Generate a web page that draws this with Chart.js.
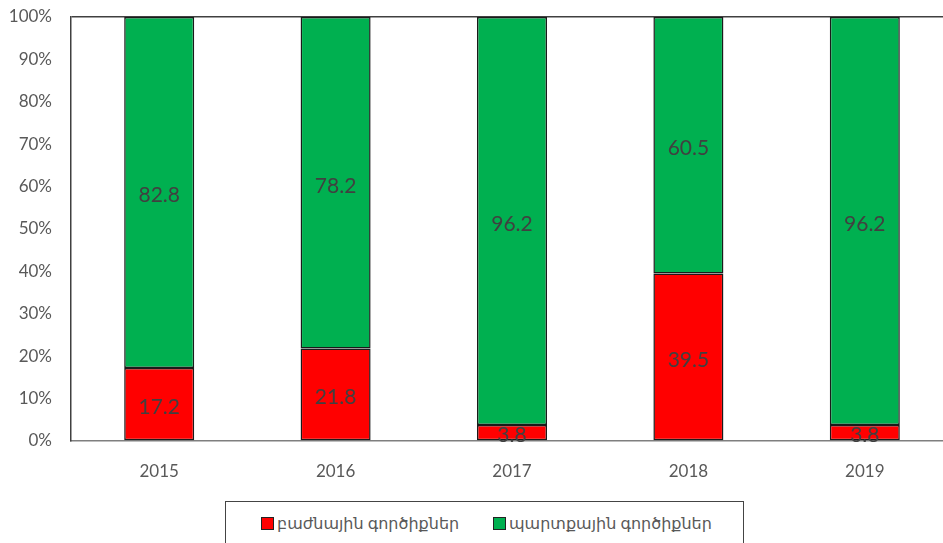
<!DOCTYPE html>
<html>
<head>
<meta charset="utf-8">
<script src="https://cdn.jsdelivr.net/npm/chart.js@4/dist/chart.umd.min.js"></script>
<style>
  html, body { margin: 0; padding: 0; background: #fff; overflow: hidden; }
  #wrap { position: relative; width: 943px; height: 543px; overflow: hidden; }
  #c { position: absolute; left: 0; top: 0; }
  #legend {
    position: absolute; left: 225px; top: 501px; width: 519px; height: 50px;
    border: 1px solid #444; box-sizing: border-box; background: #fff;
    font-family: "Lato", "DejaVu Sans", sans-serif; font-size: 16px; color: #595959;
  }
  .item { position: absolute; top: 11px; display: flex; align-items: center; white-space: nowrap; }
  .sw { width: 11px; height: 11px; border: 1px solid #222; margin-right: 3px; }
</style>
</head>
<body>
<div id="wrap">
  <canvas id="c" width="960" height="543"></canvas>
  <div id="legend"></div>
</div>
<script>
const categories = ['2015', '2016', '2017', '2018', '2019'];
const sectoralShares = [17.2, 21.8, 3.8, 39.5, 3.8];
const crossCuttingShares = [82.8, 78.2, 96.2, 60.5, 96.2];
const seriesNames = ['բաժնային գործիքներ', 'պարտքային գործիքներ'];
const seriesColors = ['#FF0000', '#00B050'];
const yTicks = [0, 10, 20, 30, 40, 50, 60, 70, 80, 90, 100];

const textColor = '#595959';
const fontFamily = '"Lato", "DejaVu Sans", sans-serif';

// Writes each segment's value in the middle of its bar piece
const segmentLabels = {
  id: 'segmentLabels',
  afterDatasetsDraw(chart) {
    const ctx = chart.ctx;
    ctx.save();
    ctx.font = '21px ' + fontFamily;
    ctx.fillStyle = '#404040';
    ctx.textAlign = 'center';
    ctx.textBaseline = 'middle';
    chart.data.datasets.forEach((ds, di) => {
      chart.getDatasetMeta(di).data.forEach((bar, i) => {
        const mid = (bar.y + bar.base) / 2;
        ctx.fillText(ds.data[i].toFixed(1), bar.x, mid + 3);
      });
    });
    ctx.restore();
  }
};

new Chart(document.getElementById('c'), {
  type: 'bar',
  data: {
    labels: categories,
    datasets: [
      { label: seriesNames[0], data: sectoralShares, backgroundColor: seriesColors[0],
        borderColor: '#1a1a1a', borderWidth: 1.5, borderSkipped: false },
      { label: seriesNames[1], data: crossCuttingShares, backgroundColor: seriesColors[1],
        borderColor: '#1a1a1a', borderWidth: 1.5, borderSkipped: false }
    ]
  },
  options: {
    responsive: false,
    animation: false,
    layout: { padding: { top: 17, right: 7, left: 0, bottom: 0 } },
    datasets: { bar: { barPercentage: 1, categoryPercentage: 0.397 } },
    plugins: { legend: { display: false }, tooltip: { enabled: false } },
    scales: {
      x: {
        stacked: true,
        grid: { display: false },
        border: { display: true, color: '#7f7f7f', width: 1.5 },
        ticks: { color: textColor, font: { family: fontFamily, size: 17 }, padding: 12 },
        afterFit(s) { s.height = 102; s.paddingLeft = 0; s.paddingRight = 0; }
      },
      y: {
        stacked: true,
        min: 0, max: 100,
        afterBuildTicks(s) { s.ticks = yTicks.map(v => ({ value: v })); },
        grid: {
          drawTicks: false,
          color: ctx => (ctx.tick && ctx.tick.value === 100 ? '#404040' : 'rgba(0,0,0,0)'),
          lineWidth: 1.5
        },
        border: { display: true, color: '#404040', width: 1.5 },
        ticks: {
          color: textColor, font: { family: fontFamily, size: 17 }, padding: 19,
          callback: v => v + '%'
        },
        afterFit(s) { s.width = 71; s.paddingTop = 0; s.paddingBottom = 0; }
      }
    }
  },
  plugins: [segmentLabels]
});

// Boxed legend under the plot
const legend = document.getElementById('legend');
const itemLefts = [35, 267];
seriesNames.forEach((name, i) => {
  const it = document.createElement('div');
  it.className = 'item';
  it.style.left = itemLefts[i] + 'px';
  const sw = document.createElement('span');
  sw.className = 'sw';
  sw.style.background = seriesColors[i];
  const tx = document.createElement('span');
  tx.textContent = name;
  it.appendChild(sw);
  it.appendChild(tx);
  legend.appendChild(it);
});
</script>
</body>
</html>
